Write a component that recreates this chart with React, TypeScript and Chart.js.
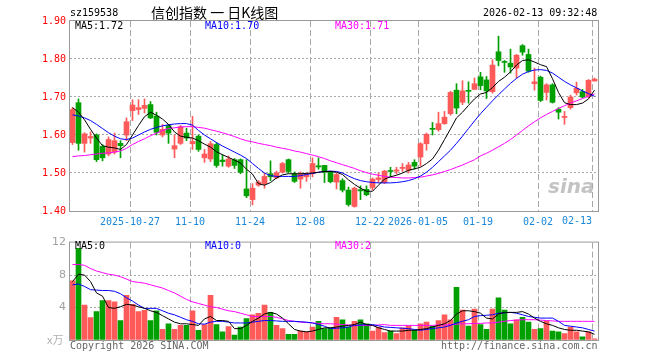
import React, { useEffect, useRef } from 'react';
import { Chart, registerables } from 'chart.js';
Chart.register(...registerables);

// ---- data ----
const TICK_SLOTS = [10, 20, 30, 40, 50, 58, 68, 78, 87];
const TICK_LABELS = ['2025-10-27', '11-10', '11-24', '12-08', '12-22', '2026-01-05', '01-19', '02-02', '02-13'];
const PRICE_TICKS = [1.4, 1.5, 1.6, 1.7, 1.8, 1.9];
const VOL_TICKS = [0, 4, 8, 12];

const OPEN = [1.580, 1.685, 1.578, 1.592, 1.600, 1.570, 1.550, 1.555, 1.578, 1.600,
  1.664, 1.667, 1.670, 1.680, 1.650, 1.600, 1.625, 1.563, 1.578, 1.605,
  1.577, 1.597, 1.540, 1.537, 1.575, 1.534, 1.518, 1.535, 1.535, 1.458,
  1.430, 1.468, 1.472, 1.498, 1.487, 1.502, 1.535, 1.498, 1.484, 1.490,
  1.498, 1.519, 1.520, 1.502, 1.476, 1.480, 1.455, 1.412, 1.456, 1.457,
  1.462, 1.483, 1.475, 1.506, 1.505, 1.512, 1.507, 1.528, 1.542, 1.577,
  1.617, 1.614, 1.630, 1.656, 1.718, 1.686, 1.717, 1.720, 1.753, 1.745,
  1.714, 1.819, 1.793, 1.789, 1.776, 1.835, 1.812, 1.735, 1.752, 1.712,
  1.732, 1.668, 1.646, 1.672, 1.711, 1.714, 1.702, 1.742];
const CLOSE = [1.667, 1.578, 1.603, 1.596, 1.535, 1.540, 1.588, 1.585, 1.572, 1.635,
  1.679, 1.672, 1.678, 1.645, 1.607, 1.615, 1.605, 1.572, 1.622, 1.592,
  1.583, 1.562, 1.550, 1.577, 1.520, 1.530, 1.537, 1.520, 1.502, 1.440,
  1.460, 1.476, 1.491, 1.490, 1.500, 1.525, 1.504, 1.478, 1.498, 1.496,
  1.525, 1.516, 1.502, 1.477, 1.496, 1.455, 1.417, 1.460, 1.453, 1.443,
  1.484, 1.487, 1.505, 1.504, 1.508, 1.515, 1.521, 1.518, 1.577, 1.602,
  1.615, 1.630, 1.647, 1.712, 1.671, 1.716, 1.715, 1.735, 1.730, 1.716,
  1.784, 1.796, 1.791, 1.779, 1.810, 1.818, 1.768, 1.740, 1.691, 1.732,
  1.686, 1.660, 1.649, 1.700, 1.723, 1.700, 1.744, 1.747];
const HIGH = [1.672, 1.695, 1.606, 1.608, 1.603, 1.575, 1.595, 1.605, 1.585, 1.645,
  1.693, 1.693, 1.695, 1.688, 1.660, 1.628, 1.628, 1.600, 1.625, 1.618,
  1.649, 1.600, 1.562, 1.583, 1.580, 1.548, 1.545, 1.538, 1.537, 1.535,
  1.472, 1.480, 1.500, 1.532, 1.505, 1.528, 1.537, 1.503, 1.503, 1.500,
  1.540, 1.540, 1.520, 1.505, 1.500, 1.485, 1.463, 1.463, 1.466, 1.466,
  1.487, 1.500, 1.507, 1.515, 1.515, 1.525, 1.528, 1.535, 1.580, 1.605,
  1.633, 1.660, 1.662, 1.715, 1.735, 1.743, 1.740, 1.750, 1.765, 1.754,
  1.798, 1.860, 1.796, 1.826, 1.812, 1.838, 1.826, 1.776, 1.755, 1.735,
  1.735, 1.672, 1.662, 1.705, 1.739, 1.720, 1.746, 1.750];
const LOW = [1.575, 1.560, 1.555, 1.578, 1.530, 1.532, 1.545, 1.550, 1.540, 1.585,
  1.638, 1.654, 1.658, 1.643, 1.600, 1.595, 1.578, 1.540, 1.575, 1.585,
  1.562, 1.557, 1.528, 1.530, 1.515, 1.518, 1.515, 1.512, 1.498, 1.435,
  1.416, 1.465, 1.460, 1.480, 1.485, 1.500, 1.500, 1.475, 1.460, 1.478,
  1.490, 1.510, 1.475, 1.474, 1.458, 1.450, 1.413, 1.410, 1.430, 1.440,
  1.455, 1.475, 1.472, 1.490, 1.497, 1.504, 1.500, 1.510, 1.518, 1.560,
  1.600, 1.610, 1.628, 1.652, 1.656, 1.680, 1.684, 1.720, 1.719, 1.696,
  1.710, 1.782, 1.765, 1.763, 1.750, 1.810, 1.765, 1.718, 1.688, 1.692,
  1.684, 1.642, 1.628, 1.668, 1.705, 1.698, 1.698, 1.742];

const MA5 = [1.672, 1.660, 1.640, 1.615, 1.592, 1.572, 1.568, 1.566, 1.562, 1.575,
  1.600, 1.625, 1.648, 1.660, 1.652, 1.642, 1.628, 1.608, 1.597, 1.594,
  1.592, 1.585, 1.576, 1.568, 1.556, 1.548, 1.541, 1.534, 1.526, 1.510,
  1.497, 1.472, 1.468, 1.475, 1.487, 1.495, 1.498, 1.498, 1.498, 1.499,
  1.500, 1.502, 1.504, 1.504, 1.502, 1.496, 1.482, 1.470, 1.460, 1.452,
  1.452, 1.468, 1.484, 1.490, 1.494, 1.500, 1.507, 1.511, 1.515, 1.525,
  1.537, 1.560, 1.588, 1.616, 1.645, 1.660, 1.678, 1.695, 1.708, 1.712,
  1.725, 1.741, 1.752, 1.766, 1.784, 1.796, 1.798, 1.792, 1.785, 1.780,
  1.748, 1.712, 1.685, 1.680, 1.680, 1.684, 1.695, 1.718];
const MA10 = [1.653, 1.650, 1.645, 1.638, 1.628, 1.617, 1.606, 1.597, 1.590, 1.588,
  1.592, 1.600, 1.608, 1.615, 1.620, 1.624, 1.627, 1.629, 1.630, 1.630,
  1.626, 1.612, 1.600, 1.590, 1.580, 1.571, 1.563, 1.555, 1.547, 1.538,
  1.525, 1.512, 1.500, 1.493, 1.491, 1.491, 1.491, 1.491, 1.493, 1.496,
  1.499, 1.502, 1.504, 1.505, 1.504, 1.500, 1.492, 1.485, 1.480, 1.477,
  1.475, 1.474, 1.474, 1.474, 1.475, 1.477, 1.480, 1.485, 1.492, 1.502,
  1.515, 1.530, 1.545, 1.560, 1.578, 1.597, 1.617, 1.637, 1.656, 1.673,
  1.690, 1.706, 1.721, 1.736, 1.749, 1.760, 1.767, 1.771, 1.772, 1.770,
  1.763, 1.752, 1.741, 1.732, 1.724, 1.716, 1.709, 1.702];
const MA30 = [1.543, 1.545, 1.546, 1.548, 1.550, 1.552, 1.553, 1.555, 1.558, 1.565,
  1.575, 1.583, 1.590, 1.598, 1.605, 1.612, 1.617, 1.619, 1.621, 1.622,
  1.622, 1.620, 1.618, 1.614, 1.610, 1.606, 1.601, 1.596, 1.590, 1.585,
  1.582, 1.578, 1.575, 1.572, 1.568, 1.565, 1.562, 1.558, 1.555, 1.551,
  1.547, 1.543, 1.538, 1.532, 1.527, 1.522, 1.517, 1.512, 1.506, 1.501,
  1.497, 1.494, 1.491, 1.489, 1.488, 1.487, 1.487, 1.488, 1.489, 1.492,
  1.495, 1.499, 1.504, 1.509, 1.515, 1.521, 1.528, 1.535, 1.545, 1.552,
  1.560, 1.569, 1.578, 1.588, 1.600, 1.612, 1.624, 1.635, 1.645, 1.654,
  1.662, 1.670, 1.677, 1.684, 1.690, 1.696, 1.702, 1.708];

const VOLUME = [7.3, 11.3, 4.3, 2.75, 3.5, 4.85, 4.85, 4.7, 2.4, 5.5,
  4.4, 3.5, 3.65, 2.4, 3.6, 1.3, 2.0, 1.3, 1.8, 1.8,
  3.6, 1.2, 1.9, 5.5, 1.9, 1.0, 1.65, 0.6, 1.6, 2.65,
  3.1, 3.3, 4.3, 3.4, 1.8, 1.4, 0.7, 0.7, 1.1, 1.0,
  1.6, 2.3, 1.4, 1.5, 2.8, 2.5, 1.6, 2.3, 2.5, 2.0,
  1.1, 1.6, 0.9, 1.1, 0.8, 1.5, 1.7, 1.2, 2.0, 2.2,
  1.7, 2.4, 3.1, 2.5, 6.5, 3.7, 1.7, 3.8, 1.9, 1.3,
  3.8, 5.2, 3.7, 2.0, 2.5, 2.8, 2.2, 1.3, 1.4, 2.3,
  1.1, 1.0, 0.8, 1.6, 1.0, 0.4, 1.0, 0.15];
const VMA5 = [7.2, 8.1, 8.0, 7.2, 5.8, 5.4, 4.0, 3.9, 4.1, 4.4,
  4.3, 4.1, 3.9, 3.6, 3.4, 3.0, 2.6, 2.2, 2.0, 2.0,
  1.9, 1.8, 2.6, 2.9, 2.4, 2.4, 2.3, 1.4, 1.4, 1.8,
  2.3, 2.7, 3.2, 3.4, 3.2, 2.7, 2.0, 1.3, 1.1, 1.0,
  1.1, 1.3, 1.5, 1.5, 1.6, 1.7, 1.8, 1.9, 2.2, 1.9,
  1.8, 1.5, 1.3, 1.1, 1.1, 1.1, 1.2, 1.2, 1.3, 1.4,
  1.6, 1.8, 2.0, 2.4, 3.2, 3.6, 3.6, 3.5, 3.3, 2.7,
  2.6, 3.2, 3.4, 3.4, 3.4, 3.5, 3.2, 2.7, 2.3, 2.0,
  1.8, 1.5, 1.3, 1.2, 1.2, 1.1, 1.0, 0.7];
const VMA10 = [6.8, 6.9, 6.6, 6.2, 6.15, 6.1, 6.1, 6.0, 5.7, 5.2,
  4.8, 4.3, 3.9, 3.9, 3.9, 3.6, 3.3, 3.1, 2.8, 2.5,
  2.3, 2.0, 1.95, 2.2, 2.3, 2.3, 2.2, 2.1, 2.1, 2.1,
  2.2, 2.3, 2.4, 2.4, 2.35, 2.3, 2.3, 2.3, 2.25, 2.2,
  2.1, 1.9, 1.7, 1.4, 1.45, 1.5, 1.6, 1.8, 1.85, 1.9,
  1.9, 1.75, 1.6, 1.55, 1.5, 1.45, 1.4, 1.3, 1.2, 1.3,
  1.4, 1.5, 1.6, 1.8, 2.1, 2.3, 2.5, 2.9, 3.0, 3.05,
  3.1, 3.3, 3.35, 3.4, 3.3, 3.1, 2.9, 2.8, 2.7, 2.7,
  2.7, 2.3, 1.8, 1.7, 1.6, 1.5, 1.3, 1.1];
const VMA30 = [9.3, 9.3, 9.2, 8.8, 8.5, 8.3, 8.1, 8.0, 7.8, 7.5,
  7.2, 7.1, 7.0, 6.8, 6.6, 6.4, 6.1, 5.8, 5.4, 5.0,
  4.7, 4.5, 4.3, 4.1, 4.0, 3.8, 3.6, 3.5, 3.3, 3.1,
  2.9, 2.9, 2.9, 2.9, 2.8, 2.6, 2.4, 2.3, 2.2, 2.15,
  2.1, 2.05, 2.0, 2.0, 1.95, 1.9, 1.85, 1.8, 1.8, 1.8,
  1.8, 1.85, 1.9, 1.8, 1.8, 1.8, 1.8, 1.8, 1.8, 1.8,
  1.8, 1.85, 1.85, 1.9, 1.95, 2.0, 2.0, 2.05, 2.05, 2.1,
  2.1, 2.2, 2.3, 2.4, 2.45, 2.5, 2.5, 2.5, 2.45, 2.4,
  2.35, 2.3, 2.3, 2.3, 2.3, 2.3, 2.3, 2.3];

// ---- styles ----
const UP = '#ff5a5a';
const DOWN = '#00a000';
const GRID = '#a8a8a8';
const FRAME = '#999999';
const MONO = '"DejaVu Sans Mono", monospace';
const SLOT_POS = 5 / 12;
const N = OPEN.length;

const colors = OPEN.map((o, i) => (CLOSE[i] >= o ? UP : DOWN));
const pts = (arr: number[]) => arr.map((y, i) => ({ x: i + SLOT_POS, y }));

const framePlugin = {
  id: 'frame',
  afterDraw(chart: any) {
    const { ctx, chartArea: a } = chart;
    ctx.save();
    ctx.strokeStyle = FRAME;
    ctx.lineWidth = 1;
    ctx.strokeRect(a.left - 0.5, a.top - 0.5, a.right - a.left + 1, a.bottom - a.top + 1);
    ctx.restore();
  },
};

function xScale(showLabels: boolean, height: number) {
  return {
    type: 'linear',
    min: 0,
    max: N,
    offset: false,
    afterBuildTicks: (s: any) => {
      s.ticks = TICK_SLOTS.map((v) => ({ value: v }));
    },
    afterFit: (s: any) => {
      s.height = height;
    },
    grid: { offset: false, drawTicks: false, color: GRID, lineWidth: 1 },
    border: { display: false, dash: [6, 3] },
    ticks: {
      display: showLabels,
      autoSkip: false,
      maxRotation: 0,
      minRotation: 0,
      padding: 5,
      color: '#1a87d8',
      font: { family: MONO, size: 10 },
      callback: (_v: any, idx: number) => (idx === TICK_SLOTS.length - 1 ? '' : TICK_LABELS[idx]),
    },
  };
}

function line(data: number[], color: string, order: number) {
  return {
    type: 'line',
    data: pts(data),
    borderColor: color,
    borderWidth: 1,
    pointRadius: 0,
    tension: 0,
    order,
  };
}

function App() {
  const priceRef = useRef<HTMLCanvasElement>(null);
  const volRef = useRef<HTMLCanvasElement>(null);

  useEffect(() => {
    const pMin = PRICE_TICKS[0];
    const pMax = PRICE_TICKS[PRICE_TICKS.length - 1];
    const price = new Chart(priceRef.current as HTMLCanvasElement, {
      type: 'bar',
      data: {
        datasets: [
          line(MA5, '#000000', 1),
          line(MA10, '#0000ff', 2),
          line(MA30, '#ff00ff', 3),
          {
            type: 'bar',
            data: OPEN.map((o, i) => ({ x: i + SLOT_POS, y: [o, CLOSE[i]] })),
            backgroundColor: colors,
            barThickness: 5,
            minBarLength: 1,
            grouped: false,
            order: 4,
          },
          {
            type: 'bar',
            data: LOW.map((l, i) => ({ x: i + SLOT_POS, y: [l, HIGH[i]] })),
            backgroundColor: colors,
            barThickness: 1,
            minBarLength: 1,
            grouped: false,
            order: 5,
          },
        ] as any,
      },
      options: {
        responsive: false,
        animation: false,
        events: [],
        layout: { padding: { left: 0, right: 62, top: 21, bottom: 0 } },
        plugins: { legend: { display: false }, tooltip: { enabled: false } },
        scales: {
          x: xScale(true, 21) as any,
          y: {
            min: pMin,
            max: pMax,
            afterBuildTicks: (s: any) => {
              s.ticks = PRICE_TICKS.map((v) => ({ value: v }));
            },
            afterFit: (s: any) => {
              s.width = 70;
            },
            grid: {
              drawTicks: false,
              lineWidth: 1,
              color: (c: any) =>
                c.tick && (Math.abs(c.tick.value - pMin) < 1e-6 || Math.abs(c.tick.value - pMax) < 1e-6)
                  ? 'rgba(0,0,0,0)'
                  : GRID,
            },
            border: { display: false, dash: [2, 2] },
            ticks: {
              padding: 4,
              color: '#ff0000',
              font: { family: MONO, size: 10 },
              callback: (v: any) => Number(v).toFixed(2),
            },
          },
        },
      },
      plugins: [framePlugin],
    });

    const vMax = VOL_TICKS[VOL_TICKS.length - 1];
    const vol = new Chart(volRef.current as HTMLCanvasElement, {
      type: 'bar',
      data: {
        datasets: [
          line(VMA5, '#000000', 1),
          line(VMA10, '#0000ff', 2),
          line(VMA30, '#ff00ff', 3),
          {
            type: 'bar',
            data: VOLUME.map((v, i) => ({ x: i + SLOT_POS, y: v })),
            backgroundColor: colors,
            barThickness: 5,
            grouped: false,
            order: 4,
          },
        ] as any,
      },
      options: {
        responsive: false,
        animation: false,
        events: [],
        layout: { padding: { left: 0, right: 62, top: 9, bottom: 20 } },
        plugins: { legend: { display: false }, tooltip: { enabled: false } },
        scales: {
          x: xScale(false, 0) as any,
          y: {
            min: 0,
            max: vMax,
            afterBuildTicks: (s: any) => {
              s.ticks = VOL_TICKS.map((v) => ({ value: v }));
            },
            afterFit: (s: any) => {
              s.width = 70;
            },
            grid: {
              drawTicks: false,
              lineWidth: 1,
              color: (c: any) =>
                c.tick && (c.tick.value === 0 || c.tick.value === vMax) ? 'rgba(0,0,0,0)' : GRID,
            },
            border: { display: false, dash: [2, 2] },
            ticks: {
              padding: 4,
              color: '#a0a0a0',
              font: { family: '"DejaVu Sans", sans-serif', size: 11 },
              callback: (v: any) => (v === 0 ? '' : String(v)),
            },
          },
        },
      },
      plugins: [framePlugin],
    });

    return () => {
      price.destroy();
      vol.destroy();
    };
  }, []);

  const txt = (content: string, left: number, top: number, color: string, extra: any = {}) => (
    <div
      style={{
        position: 'absolute',
        left,
        top,
        color,
        font: `10px ${MONO}`,
        lineHeight: '10px',
        whiteSpace: 'pre',
        ...extra,
      }}
    >
      {content}
    </div>
  );

  return (
    <div style={{ position: 'fixed', left: 0, top: 0, width: 660, height: 360, background: '#ffffff', overflow: 'hidden' }}>
      <canvas ref={priceRef} width={660} height={232} style={{ position: 'absolute', left: 0, top: 0, width: 660, height: 232 }} />
      <canvas ref={volRef} width={660} height={128} style={{ position: 'absolute', left: 0, top: 232, width: 660, height: 128 }} />
      {txt('sz159538', 70, 8, '#000000')}
      <div
        style={{
          position: 'absolute',
          left: 151,
          top: 5,
          font: '14px "Noto Sans CJK SC", sans-serif',
          lineHeight: '14px',
          color: '#000000',
          whiteSpace: 'pre',
        }}
      >
        信创指数 一 日K线图
      </div>
      {txt('2026-02-13 09:32:48', 483, 8, '#000000')}
      {txt('MA5:1.72', 75, 21, '#000000')}
      {txt('MA10:1.70', 205, 21, '#0000ff')}
      {txt('MA30:1.71', 335, 21, '#ff00ff')}
      {txt(TICK_LABELS[TICK_LABELS.length - 1], 562, 216, '#1a87d8')}
      {txt('MA5:0', 75, 241, '#000000')}
      {txt('MA10:0', 205, 241, '#0000ff')}
      {txt('MA30:2', 335, 241, '#ff00ff')}
      <div
        style={{
          position: 'absolute',
          left: 47,
          top: 334,
          font: '11px "Noto Sans CJK SC", sans-serif',
          lineHeight: '11px',
          color: '#b0b0b0',
          whiteSpace: 'pre',
        }}
      >
        x万
      </div>
      {txt('Copyright 2026 SINA.COM', 70, 341, '#666666')}
      {txt('http://finance.sina.com.cn', 441, 341, '#666666')}
      <div
        style={{
          position: 'absolute',
          left: 548,
          top: 176,
          font: 'italic bold 20px "DejaVu Sans", sans-serif',
          lineHeight: '20px',
          color: 'rgba(170,170,170,0.7)',
          whiteSpace: 'pre',
        }}
      >
        sina
      </div>
    </div>
  );
}

export default App;
